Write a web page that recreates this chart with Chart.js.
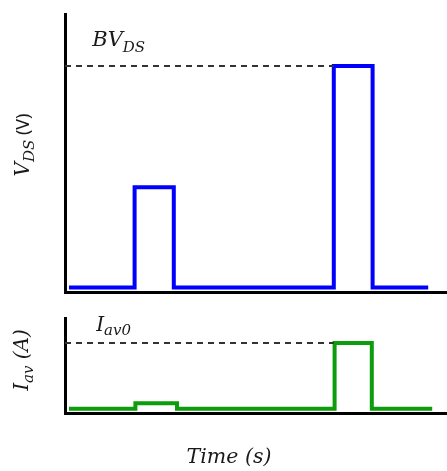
<!DOCTYPE html>
<html>
<head>
<meta charset="utf-8">
<script src="https://cdn.jsdelivr.net/npm/chart.js@4"></script>
<style>
  html, body { margin: 0; padding: 0; background: #fff; }
  #wrap { position: relative; width: 447px; height: 471px; }
  #vds { position: absolute; left: 0; top: 0; }
  #iav { position: absolute; left: 0; top: 300px; }
</style>
</head>
<body>
<div id="wrap">
  <canvas id="vds" width="447" height="300"></canvas>
  <canvas id="iav" width="447" height="171"></canvas>
</div>
<script>
// pulse corners (time in arbitrary units)
const tV = [0.1, 1.74, 1.74, 2.72, 2.72, 6.72, 6.72, 7.69, 7.69, 9.08];
const vDS = [2, 2, 46.3, 46.3, 2, 2, 100, 100, 2, 2];
const tI = [0.1, 1.76, 1.76, 2.8, 2.8, 6.74, 6.74, 7.67, 7.67, 9.18];
const iAv = [0.061, 0.061, 0.139, 0.139, 0.061, 0.061, 1, 1, 0.061, 0.061];

// breakdown voltage / avalanche current levels
const bvDS = 100;
const iAv0 = 1;
const tRefEnd = 6.72;

const xMax = 9.55;
const vMax = 123;
const iMax = 1.357;

const MATH = '"DejaVu Serif"';

function pts(xs, ys) {
  return xs.map((x, i) => ({ x: x, y: ys[i] }));
}

// draw a row of text pieces: [text, font, dy]
function runs(ctx, list, x, y, rot, align) {
  ctx.save();
  ctx.translate(x, y);
  ctx.rotate(rot);
  let w = 0;
  list.forEach((r) => {
    ctx.font = r[1];
    w += ctx.measureText(r[0]).width;
  });
  let cx = align === "center" ? -w / 2 : 0;
  ctx.fillStyle = "#1a1a1a";
  ctx.textBaseline = "alphabetic";
  ctx.textAlign = "left";
  list.forEach((r) => {
    ctx.font = r[1];
    ctx.fillText(r[0], cx, r[2]);
    cx += ctx.measureText(r[0]).width;
  });
  ctx.restore();
}

function axes(yMax) {
  const common = {
    grid: { display: false, drawTicks: false },
    ticks: { display: false },
    border: { display: true, color: "#000", width: 3 },
  };
  return {
    x: Object.assign({ type: "linear", min: 0, max: xMax }, common),
    y: Object.assign({ type: "linear", min: 0, max: yMax }, common),
  };
}

const vdsLabels = {
  id: "vdsLabels",
  afterDraw(chart) {
    const ctx = chart.ctx;
    const xs = chart.scales.x;
    const ys = chart.scales.y;
    const x0 = xs.getPixelForValue(0.68);
    const y0 = ys.getPixelForValue(bvDS) - 19.5;
    runs(ctx, [
      ["BV", "italic 21px " + MATH, 0],
      ["DS", "italic 15px " + MATH, 5.5],
    ], x0, y0, 0, "left");

    runs(ctx, [
      ["V", "italic 20px " + MATH, 0],
      ["DS", "italic 15px " + MATH, 4.5],
      [" (V)", '18px "Noto Sans"', 0],
    ], 29, 145, -Math.PI / 2, "center");
  },
};

const iavLabels = {
  id: "iavLabels",
  afterDraw(chart) {
    const ctx = chart.ctx;
    const xs = chart.scales.x;
    const ys = chart.scales.y;
    const x0 = xs.getPixelForValue(0.78);
    const y0 = ys.getPixelForValue(iAv0) - 12;
    runs(ctx, [
      ["I", "italic 20px " + MATH, 0],
      ["av0", "italic 15px " + MATH, 4.5],
    ], x0, y0, 0, "left");

    runs(ctx, [
      ["I", "italic 20px " + MATH, 0],
      ["av", "italic 15px " + MATH, 4.5],
      [" (A)", "italic 20px " + MATH, 0],
    ], 28, 60, -Math.PI / 2, "center");

    runs(ctx, [["Time (s)", "italic 20.5px " + MATH, 0]], 229, 163, 0, "center");
  },
};

function lineSet(data, color) {
  return {
    data: data,
    borderColor: color,
    borderWidth: 4,
    borderJoinStyle: "miter",
    pointRadius: 0,
    fill: false,
    tension: 0,
  };
}

function dashSet(level) {
  return {
    data: pts([0, tRefEnd], [level, level]),
    borderColor: "#333",
    borderWidth: 1.8,
    borderDash: [6, 5],
    pointRadius: 0,
    fill: false,
  };
}

const baseOpts = {
  responsive: false,
  animation: false,
  plugins: { legend: { display: false }, tooltip: { enabled: false } },
};

new Chart(document.getElementById("vds"), {
  type: "line",
  data: {
    datasets: [dashSet(bvDS), lineSet(pts(tV, vDS), "#0000ff")],
  },
  options: Object.assign({}, baseOpts, {
    layout: { padding: { left: 65, top: 14, right: 0, bottom: 8 } },
    scales: axes(vMax),
  }),
  plugins: [vdsLabels],
});

new Chart(document.getElementById("iav"), {
  type: "line",
  data: {
    datasets: [dashSet(iAv0), lineSet(pts(tI, iAv), "#0c9c0c")],
  },
  options: Object.assign({}, baseOpts, {
    layout: { padding: { left: 65, top: 18, right: 0, bottom: 58 } },
    scales: axes(iMax),
  }),
  plugins: [iavLabels],
});
</script>
</body>
</html>
